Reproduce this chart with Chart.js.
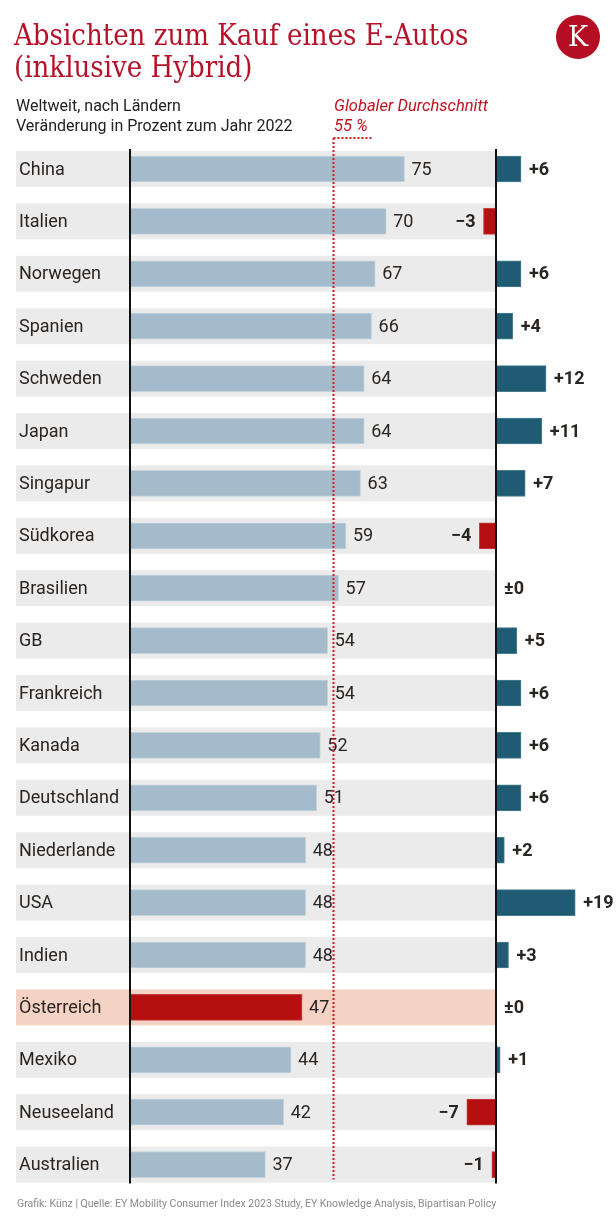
<!DOCTYPE html>
<html>
<head>
<meta charset="utf-8">
<script src="https://cdn.jsdelivr.net/npm/chart.js@4"></script>
<style>
  html,body{margin:0;padding:0;background:#fff;}
  #wrap{position:relative;width:616px;height:1220px;overflow:hidden;font-family:Roboto,"Noto Sans",sans-serif;}
  #chart{position:absolute;left:0;top:0;}
  .t{position:absolute;white-space:nowrap;}
  #title{left:14px;top:19px;font-family:"DejaVu Serif Condensed","DejaVu Serif",serif;font-stretch:condensed;font-size:29px;line-height:32px;color:#b5122a;}
  #logo{left:556px;top:15px;width:44px;height:44px;border-radius:50%;background:#b50e22;color:#fff;font-family:"DejaVu Serif",serif;font-size:27px;line-height:44px;text-align:center;}
  #sub{left:16px;top:96px;font-size:16px;line-height:20px;color:#222;}
  #avg{left:334px;top:96px;font-size:16.5px;line-height:20px;color:#c0121f;font-style:italic;}
  #foot{left:17px;top:1197px;font-size:10.5px;color:#8a8a8a;}
</style>
</head>
<body>
<div id="wrap">
  <canvas id="chart" width="616" height="1220"></canvas>
  <div class="t" id="title">Absichten zum Kauf eines E-Autos<br>(inklusive Hybrid)</div>
  <div class="t" id="logo">K</div>
  <div class="t" id="sub">Weltweit, nach Ländern<br>Veränderung in Prozent zum Jahr 2022</div>
  <div class="t" id="avg">Globaler Durchschnitt<br>55 %</div>
  <div class="t" id="foot">Grafik: Künz | Quelle: EY Mobility Consumer Index 2023 Study, EY Knowledge Analysis, Bipartisan Policy</div>
</div>
<script>
const countries = ['China','Italien','Norwegen','Spanien','Schweden','Japan','Singapur','Südkorea','Brasilien','GB',
  'Frankreich','Kanada','Deutschland','Niederlande','USA','Indien','Österreich','Mexiko','Neuseeland','Australien'];
const shares = [75,70,67,66,64,64,63,59,57,54,54,52,51,48,48,48,47,44,42,37];
const changes = [6,-3,6,4,12,11,7,-4,0,5,6,6,6,2,19,3,0,1,-7,-1];
const globalAvg = 55;
const highlight = 'Österreich';

const BLUE = '#a3bbca', RED = '#b50f0f', TEAL = '#1f5c73', TXT = '#2b2522';

function el(sel){ return document.querySelector(sel); }
function fmtChange(v){ return v > 0 ? '+' + v : v < 0 ? '\u2212' + Math.abs(v) : '\u00b10'; }

const rowPlugin = {
  id: 'rows',
  beforeDatasetsDraw(chart){
    const {ctx} = chart, y = chart.scales.y, x2 = chart.scales.x2;
    const right = x2.getPixelForValue(0);
    ctx.save();
    countries.forEach((c,i)=>{
      const cy = y.getPixelForValue(i);
      ctx.fillStyle = c===highlight ? '#f4d2c4' : '#ebebeb';
      ctx.fillRect(16, cy-18, right-16, 36);
      ctx.fillStyle = TXT;
      ctx.font = '18px Roboto';
      ctx.textBaseline = 'middle';
      ctx.textAlign = 'left';
      ctx.fillText(c, 19, cy+1);
    });
    ctx.restore();
  },
  afterDatasetsDraw(chart){
    const {ctx} = chart, y = chart.scales.y, x = chart.scales.x, x2 = chart.scales.x2;
    const m0 = chart.getDatasetMeta(0), m1 = chart.getDatasetMeta(1);
    const top = y.getPixelForValue(0) - 20, bot = y.getPixelForValue(countries.length-1) + 19;
    ctx.save();
    ctx.textBaseline = 'middle';
    shares.forEach((v,i)=>{
      const b = m0.data[i];
      ctx.fillStyle = TXT; ctx.font = '18px Roboto'; ctx.textAlign = 'left';
      ctx.fillText(String(v), b.x + 7, b.y + 1);
    });
    changes.forEach((v,i)=>{
      const b = m1.data[i];
      ctx.fillStyle = TXT; ctx.font = 'bold 18px Roboto';
      if (v > 0){ ctx.textAlign='left'; ctx.fillText(fmtChange(v), b.x + 8, b.y + 1); }
      else if (v < 0){ ctx.textAlign='right'; ctx.fillText(fmtChange(v), b.x - 8, b.y + 1); }
      else { ctx.textAlign='left'; ctx.fillText(fmtChange(v), x2.getPixelForValue(0) + 8, b.y + 1); }
    });
    // axis lines
    ctx.strokeStyle = '#111'; ctx.lineWidth = 2;
    [x.getPixelForValue(0), x2.getPixelForValue(0)].forEach(px=>{
      ctx.beginPath(); ctx.moveTo(px, top); ctx.lineTo(px, bot); ctx.stroke();
    });
    // global average dotted line
    const ax = Math.round(x.getPixelForValue(globalAvg)) + 2.5;
    ctx.strokeStyle = '#d01c24'; ctx.lineWidth = 2; ctx.setLineDash([2,2]);
    ctx.beginPath(); ctx.moveTo(ax, 138); ctx.lineTo(ax + 40, 138); ctx.stroke();
    ctx.beginPath(); ctx.moveTo(ax, 138); ctx.lineTo(ax, bot - 4); ctx.stroke();
    ctx.restore();
  }
};

new Chart(el('#chart'), {
  type: 'bar',
  data: {
    labels: countries,
    datasets: [
      { data: shares, xAxisID: 'x', grouped: false, barThickness: 26,
        backgroundColor: countries.map(c=> c===highlight ? RED : BLUE),
        borderColor: countries.map(c=> c===highlight ? '#c94040' : '#c3d3dc'), borderWidth: 1, borderSkipped: 'start' },
      { data: changes, xAxisID: 'x2', grouped: false, barThickness: 26,
        backgroundColor: changes.map(v=> v < 0 ? RED : TEAL),
        borderColor: changes.map(v=> v < 0 ? '#c94040' : '#4a7d90'), borderWidth: 1, borderSkipped: 'start' }
    ]
  },
  options: {
    indexAxis: 'y',
    responsive: false,
    animation: false,
    layout: { padding: { top: 142.8, bottom: 29.2, left: 130, right: 16 } },
    scales: {
      y: { type: 'category', display: false, offset: true },
      x: { type: 'linear', display: false, min: 0, max: 470/3.66 },
      x2: { type: 'linear', display: false, min: -366/4.17, max: (470-366)/4.17 }
    },
    plugins: { legend: { display: false }, tooltip: { enabled: false } }
  },
  plugins: [rowPlugin]
});
</script>
</body>
</html>
